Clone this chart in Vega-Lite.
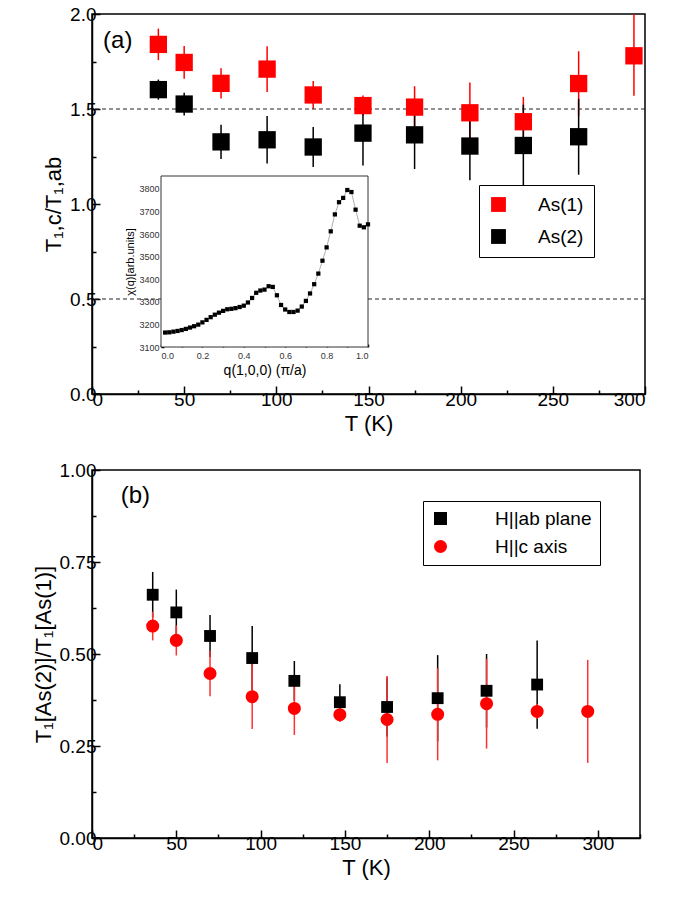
{
  "$schema": "https://vega.github.io/schema/vega-lite/v6.json",
  "background": "white",
  "padding": {"left": 31, "top": 4, "right": 10, "bottom": 5},
  "datasets": {
    "top": [
      {"T": 36, "v": 1.84, "lo": 1.757, "hi": 1.923, "s": "As(1)"},
      {"T": 50, "v": 1.745, "lo": 1.659, "hi": 1.831, "s": "As(1)"},
      {"T": 70, "v": 1.635, "lo": 1.555, "hi": 1.715, "s": "As(1)"},
      {"T": 95, "v": 1.71, "lo": 1.59, "hi": 1.83, "s": "As(1)"},
      {"T": 120, "v": 1.574, "lo": 1.5, "hi": 1.648, "s": "As(1)"},
      {"T": 147, "v": 1.518, "lo": 1.465, "hi": 1.571, "s": "As(1)"},
      {"T": 175, "v": 1.51, "lo": 1.4, "hi": 1.62, "s": "As(1)"},
      {"T": 205, "v": 1.48, "lo": 1.32, "hi": 1.64, "s": "As(1)"},
      {"T": 234, "v": 1.433, "lo": 1.303, "hi": 1.563, "s": "As(1)"},
      {"T": 264, "v": 1.634, "lo": 1.464, "hi": 1.804, "s": "As(1)"},
      {"T": 294, "v": 1.78, "lo": 1.57, "hi": 2.0, "s": "As(1)"},
      {"T": 36, "v": 1.602, "lo": 1.549, "hi": 1.655, "s": "As(2)"},
      {"T": 50, "v": 1.526, "lo": 1.466, "hi": 1.586, "s": "As(2)"},
      {"T": 70, "v": 1.327, "lo": 1.237, "hi": 1.417, "s": "As(2)"},
      {"T": 95, "v": 1.338, "lo": 1.213, "hi": 1.463, "s": "As(2)"},
      {"T": 120, "v": 1.3, "lo": 1.195, "hi": 1.405, "s": "As(2)"},
      {"T": 147, "v": 1.373, "lo": 1.203, "hi": 1.543, "s": "As(2)"},
      {"T": 175, "v": 1.364, "lo": 1.184, "hi": 1.544, "s": "As(2)"},
      {"T": 205, "v": 1.305, "lo": 1.125, "hi": 1.485, "s": "As(2)"},
      {"T": 234, "v": 1.308, "lo": 1.093, "hi": 1.523, "s": "As(2)"},
      {"T": 264, "v": 1.354, "lo": 1.154, "hi": 1.554, "s": "As(2)"}
    ],
    "inset": [
      {"q": 0.02, "chi": 3164}, {"q": 0.04, "chi": 3165}, {"q": 0.06, "chi": 3168},
      {"q": 0.08, "chi": 3171}, {"q": 0.10, "chi": 3175}, {"q": 0.12, "chi": 3180},
      {"q": 0.14, "chi": 3186}, {"q": 0.16, "chi": 3192}, {"q": 0.18, "chi": 3199},
      {"q": 0.20, "chi": 3209}, {"q": 0.22, "chi": 3220}, {"q": 0.24, "chi": 3232},
      {"q": 0.26, "chi": 3243}, {"q": 0.28, "chi": 3252}, {"q": 0.30, "chi": 3260},
      {"q": 0.32, "chi": 3267}, {"q": 0.34, "chi": 3269}, {"q": 0.36, "chi": 3272},
      {"q": 0.38, "chi": 3277}, {"q": 0.40, "chi": 3283}, {"q": 0.42, "chi": 3297},
      {"q": 0.44, "chi": 3317}, {"q": 0.46, "chi": 3340}, {"q": 0.48, "chi": 3350},
      {"q": 0.50, "chi": 3354}, {"q": 0.52, "chi": 3369}, {"q": 0.54, "chi": 3366},
      {"q": 0.56, "chi": 3329}, {"q": 0.58, "chi": 3286}, {"q": 0.60, "chi": 3266},
      {"q": 0.62, "chi": 3255}, {"q": 0.64, "chi": 3255}, {"q": 0.66, "chi": 3261},
      {"q": 0.68, "chi": 3279}, {"q": 0.70, "chi": 3304}, {"q": 0.72, "chi": 3337},
      {"q": 0.74, "chi": 3378}, {"q": 0.76, "chi": 3425}, {"q": 0.78, "chi": 3482},
      {"q": 0.80, "chi": 3541}, {"q": 0.82, "chi": 3612}, {"q": 0.84, "chi": 3687},
      {"q": 0.86, "chi": 3741}, {"q": 0.88, "chi": 3760}, {"q": 0.90, "chi": 3795},
      {"q": 0.92, "chi": 3786}, {"q": 0.94, "chi": 3708}, {"q": 0.96, "chi": 3637},
      {"q": 0.98, "chi": 3630}, {"q": 1.0, "chi": 3643}
    ],
    "bottom": [
      {"T": 36, "v": 0.661, "lo": 0.599, "hi": 0.723, "s": "H||ab plane"},
      {"T": 50, "v": 0.613, "lo": 0.551, "hi": 0.675, "s": "H||ab plane"},
      {"T": 70, "v": 0.549, "lo": 0.492, "hi": 0.606, "s": "H||ab plane"},
      {"T": 95, "v": 0.489, "lo": 0.402, "hi": 0.576, "s": "H||ab plane"},
      {"T": 120, "v": 0.427, "lo": 0.373, "hi": 0.481, "s": "H||ab plane"},
      {"T": 147, "v": 0.369, "lo": 0.32, "hi": 0.418, "s": "H||ab plane"},
      {"T": 175, "v": 0.356, "lo": 0.276, "hi": 0.436, "s": "H||ab plane"},
      {"T": 205, "v": 0.38, "lo": 0.263, "hi": 0.497, "s": "H||ab plane"},
      {"T": 234, "v": 0.4, "lo": 0.3, "hi": 0.5, "s": "H||ab plane"},
      {"T": 264, "v": 0.417, "lo": 0.297, "hi": 0.537, "s": "H||ab plane"},
      {"T": 36, "v": 0.576, "lo": 0.537, "hi": 0.615, "s": "H||c axis"},
      {"T": 50, "v": 0.537, "lo": 0.496, "hi": 0.578, "s": "H||c axis"},
      {"T": 70, "v": 0.447, "lo": 0.385, "hi": 0.509, "s": "H||c axis"},
      {"T": 95, "v": 0.384, "lo": 0.296, "hi": 0.472, "s": "H||c axis"},
      {"T": 120, "v": 0.352, "lo": 0.28, "hi": 0.424, "s": "H||c axis"},
      {"T": 147, "v": 0.335, "lo": 0.315, "hi": 0.355, "s": "H||c axis"},
      {"T": 175, "v": 0.322, "lo": 0.204, "hi": 0.44, "s": "H||c axis"},
      {"T": 205, "v": 0.336, "lo": 0.211, "hi": 0.461, "s": "H||c axis"},
      {"T": 234, "v": 0.365, "lo": 0.243, "hi": 0.487, "s": "H||c axis"},
      {"T": 264, "v": 0.344, "lo": 0.324, "hi": 0.364, "s": "H||c axis"},
      {"T": 294, "v": 0.344, "lo": 0.204, "hi": 0.484, "s": "H||c axis"}
    ]
  },
  "resolve": {"scale": {"color": "independent", "shape": "independent", "size": "independent"}, "legend": {"color": "independent"}},
  "vconcat": [
    {
      "width": 553,
      "height": 380,
      "layer": [
        {
          "data": {"name": "top"},
          "layer": [
            {
              "mark": {"type": "rule", "strokeWidth": 1.5},
              "encoding": {
                "x": {"field": "T", "type": "quantitative", "scale": {"domain": [0, 300], "nice": false},
                  "axis": {"title": "T (K)", "values": [0, 25, 50, 75, 100, 125, 150, 175, 200, 225, 250, 275, 300],
                    "labelExpr": "datum.value % 50 == 0 ? datum.label : ''",
                    "tickSize": {"condition": {"test": "datum.value % 50 == 0", "value": -8}, "value": -4}}},
                "y": {"field": "lo", "type": "quantitative", "scale": {"domain": [0, 2]},
                  "axis": {"title": "T₁,c/T₁,ab", "format": ".1f", "values": [0, 0.25, 0.5, 0.75, 1, 1.25, 1.5, 1.75, 2],
                    "labelExpr": "datum.value % 0.5 == 0 ? datum.label : ''",
                    "tickSize": {"condition": {"test": "datum.value % 0.5 == 0", "value": -8}, "value": -4}}},
                "y2": {"field": "hi"},
                "color": {"field": "s", "type": "nominal"}
              }
            },
            {
              "mark": {"type": "rule", "strokeDash": [4, 3], "color": "#222", "strokeWidth": 1},
              "data": {"values": [{}]},
              "encoding": {"y": {"datum": 1.5}}
            },
            {
              "mark": {"type": "rule", "strokeDash": [4, 3], "color": "#222", "strokeWidth": 1},
              "data": {"values": [{}]},
              "encoding": {"y": {"datum": 0.5}}
            },
            {
              "mark": {"type": "square", "opacity": 1, "size": 300},
              "encoding": {
                "x": {"field": "T", "type": "quantitative"},
                "y": {"field": "v", "type": "quantitative"},
                "color": {"field": "s", "type": "nominal",
                  "scale": {"domain": ["As(1)", "As(2)"], "range": ["#ff0000", "#000000"]},
                  "legend": {"title": null, "orient": "none", "legendX": 387, "legendY": 171, "symbolType": "square", "symbolSize": 220,
                    "labelFontSize": 19, "strokeColor": "black", "fillColor": "white", "padding": 10, "rowPadding": 12, "labelOffset": 30, "symbolOpacity": 1,
                    "symbolStrokeWidth": 0}}
              }
            },
            {
              "mark": {"type": "text", "fontSize": 24, "align": "left", "baseline": "middle"},
              "data": {"values": [{}]},
              "encoding": {
                "x": {"datum": 6},
                "y": {"datum": 1.86},
                "text": {"value": "(a)"}
              }
            }
          ]
        },
        {
          "data": {"name": "inset"},
          "layer": [
            {
              "mark": {"type": "rect", "fill": "white", "stroke": "#333", "strokeWidth": 1},
              "data": {"values": [{}]},
              "encoding": {
                "x": {"datum": 0, "type": "quantitative"},
                "x2": {"datum": 1},
                "y": {"datum": 3100, "type": "quantitative"},
                "y2": {"datum": 3857}
              }
            },
            {
              "mark": {"type": "line", "color": "#999", "strokeWidth": 0.8},
              "encoding": {
                "x": {"field": "q", "type": "quantitative",
                  "scale": {"domain": [0, 1], "range": [69, 276], "nice": false},
                  "axis": {"orient": "top", "offset": -333, "values": [0, 0.1, 0.2, 0.3, 0.4, 0.5, 0.6, 0.7, 0.8, 0.9, 1], "format": ".1f",
                    "labelExpr": "round(datum.value * 10) % 2 == 0 ? datum.label : ''",
                    "tickSize": 3, "labelFontSize": 9, "labelPadding": -16, "labelColor": "#333", "domain": false,
                    "title": "q(1,0,0) (π/a)", "titleFontSize": 14, "titleFontWeight": "normal", "titleY": 30, "titleBaseline": "bottom"}},
                "y": {"field": "chi", "type": "quantitative",
                  "scale": {"domain": [3100, 3857], "range": [333, 162], "nice": false, "zero": false},
                  "axis": {"orient": "left", "offset": -69, "values": [3100, 3200, 3300, 3400, 3500, 3600, 3700, 3800], "format": "d",
                    "tickSize": -3, "labelFontSize": 9, "labelPadding": 5, "labelColor": "#333", "domain": false,
                    "title": "χ(q)[arb.units]", "titleFontSize": 11, "titleFontWeight": "normal", "titlePadding": 3}}
              }
            },
            {
              "mark": {"type": "square", "color": "black", "opacity": 1, "size": 18},
              "encoding": {
                "x": {"field": "q", "type": "quantitative"},
                "y": {"field": "chi", "type": "quantitative"}
              }
            }
          ]
        }
      ],
      "resolve": {"scale": {"x": "independent", "y": "independent"}}
    },
    {
      "width": 548,
      "height": 368,
      "data": {"name": "bottom"},
      "layer": [
        {
          "mark": {"type": "rule", "strokeWidth": 1.5},
          "encoding": {
            "x": {"field": "T", "type": "quantitative", "scale": {"domain": [0, 325], "nice": false},
              "axis": {"title": "T  (K)", "values": [0, 25, 50, 75, 100, 125, 150, 175, 200, 225, 250, 275, 300, 325],
                "labelExpr": "datum.value % 50 == 0 ? datum.label : ''",
                "tickSize": {"condition": {"test": "datum.value % 50 == 0", "value": -8}, "value": -4}}},
            "y": {"field": "lo", "type": "quantitative", "scale": {"domain": [0, 1]},
              "axis": {"title": "T₁[As(2)]/T₁[As(1)]", "format": ".2f", "values": [0, 0.125, 0.25, 0.375, 0.5, 0.625, 0.75, 0.875, 1],
                "labelExpr": "datum.value * 4 % 1 == 0 ? datum.label : ''",
                "tickSize": {"condition": {"test": "datum.value * 4 % 1 == 0", "value": -8}, "value": -4}}},
            "y2": {"field": "hi"},
            "color": {"field": "s", "type": "nominal", "scale": {"domain": ["H||ab plane", "H||c axis"], "range": ["#000000", "#ff3030"]}, "legend": null}
          }
        },
        {
          "mark": {"type": "point", "filled": true, "opacity": 1},
          "encoding": {
            "x": {"field": "T", "type": "quantitative"},
            "y": {"field": "v", "type": "quantitative"},
            "shape": {"field": "s", "type": "nominal", "scale": {"domain": ["H||ab plane", "H||c axis"], "range": ["square", "circle"]}, "legend": null},
            "size": {"field": "s", "type": "nominal", "scale": {"domain": ["H||ab plane", "H||c axis"], "range": [140, 170]}, "legend": null},
            "color": {"field": "s", "type": "nominal", "scale": {"domain": ["H||ab plane", "H||c axis"], "range": ["#000000", "#ff0000"]},
              "legend": {"title": null, "orient": "none", "legendX": 331, "legendY": 31, "symbolSize": 170, "symbolOpacity": 1,
                "labelFontSize": 19, "strokeColor": "black", "fillColor": "white", "padding": 8, "rowPadding": 8, "labelOffset": 45, "symbolStrokeWidth": 0,
                "encode": {"symbols": {"update": {"shape": {"signal": "datum.label == 'H||ab plane' ? 'square' : 'circle'"}}}}}}
          }
        },
        {
          "mark": {"type": "text", "fontSize": 24, "align": "left", "baseline": "middle"},
          "data": {"values": [{}]},
          "encoding": {
            "x": {"datum": 17},
            "y": {"datum": 0.93},
            "text": {"value": "(b)"}
          }
        }
      ],
      "resolve": {"scale": {"color": "independent"}, "legend": {"color": "independent"}}
    }
  ],
  "spacing": 76,
  "bounds": "flush",
  "config": {
    "font": "Liberation Sans",
    "view": {"stroke": "black", "strokeWidth": 1.5},
    "axis": {"labelFontSize": 19, "titleFontSize": 22, "titleFontWeight": "normal", "labelColor": "black",
      "domainColor": "black", "domainWidth": 1.5, "tickColor": "black", "tickWidth": 1.5, "labelPadding": 4, "grid": false}
  }
}
